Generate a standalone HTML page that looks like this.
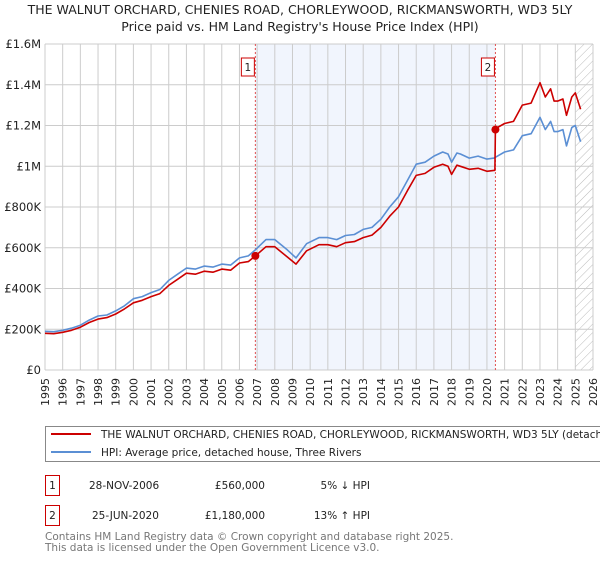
<!DOCTYPE html>
<html><head><meta charset="utf-8"><style>
body{margin:0;width:600px;height:560px;overflow:hidden;background:#fff;font-family:"DejaVu Sans","Liberation Sans",sans-serif;}
text{font-family:"DejaVu Sans","Liberation Sans",sans-serif;}
</style></head><body>
<svg id="chart" width="600" height="560" xmlns="http://www.w3.org/2000/svg">
<text x="300" y="14" font-size="12.5" text-anchor="middle" fill="#222">THE WALNUT ORCHARD, CHENIES ROAD, CHORLEYWOOD, RICKMANSWORTH, WD3 5LY</text>
<text x="300" y="31" font-size="12.5" text-anchor="middle" fill="#222">Price paid vs. HM Land Registry's House Price Index (HPI)</text>
<g id="plot"></g>
<g>
<rect x="45.5" y="426.5" width="560" height="35" fill="#fff" stroke="#888"/>
<line x1="51" y1="434" x2="91" y2="434" stroke="#cc0000" stroke-width="2"/>
<text x="101" y="438" font-size="10.5" fill="#222">THE WALNUT ORCHARD, CHENIES ROAD, CHORLEYWOOD, RICKMANSWORTH, WD3 5LY (detached house)</text>
<line x1="51" y1="452" x2="91" y2="452" stroke="#5b8fd4" stroke-width="2"/>
<text x="101" y="456" font-size="10.5" fill="#222">HPI: Average price, detached house, Three Rivers</text>
</g>
<g font-size="10.5" fill="#222">
<rect x="45.5" y="475.5" width="14" height="20" fill="#fff" stroke="#cc0000"/>
<text x="52.5" y="489" text-anchor="middle">1</text>
<text x="89" y="489">28-NOV-2006</text>
<text x="265" y="489" text-anchor="end">£560,000</text>
<text x="370" y="489" text-anchor="end">5% ↓ HPI</text>
</g>
<g font-size="10.5" fill="#222">
<rect x="45.5" y="505.5" width="14" height="20" fill="#fff" stroke="#cc0000"/>
<text x="52.5" y="519" text-anchor="middle">2</text>
<text x="92" y="519">25-JUN-2020</text>
<text x="265" y="519" text-anchor="end">£1,180,000</text>
<text x="370" y="519" text-anchor="end">13% ↑ HPI</text>
</g>
<text x="45" y="540" font-size="10.5" fill="#777">Contains HM Land Registry data © Crown copyright and database right 2025.</text>
<text x="45" y="551" font-size="10.5" fill="#777">This data is licensed under the Open Government Licence v3.0.</text>
</svg>
<script>
const yearTicks=[1995,1996,1997,1998,1999,2000,2001,2002,2003,2004,2005,2006,2007,2008,2009,2010,2011,2012,2013,2014,2015,2016,2017,2018,2019,2020,2021,2022,2023,2024,2025,2026];
const priceTicks=[0,200000,400000,600000,800000,1000000,1200000,1400000,1600000];
const priceLabels=["£0","£200K","£400K","£600K","£800K","£1M","£1.2M","£1.4M","£1.6M"];
const hpiDates=[1995,1995.5,1996,1996.5,1997,1997.5,1998,1998.5,1999,1999.5,2000,2000.5,2001,2001.5,2002,2002.5,2003,2003.5,2004,2004.5,2005,2005.5,2006,2006.5,2006.9,2007.5,2008,2008.7,2009.2,2009.8,2010.5,2011,2011.5,2012,2012.5,2013,2013.5,2014,2014.5,2015,2015.5,2016,2016.5,2017,2017.5,2017.8,2018,2018.3,2018.5,2019,2019.5,2020,2020.4,2020.6,2021,2021.5,2022,2022.5,2023,2023.3,2023.6,2023.8,2024,2024.3,2024.5,2024.8,2025,2025.3];
const hpiValues=[190000,188000,195000,205000,220000,245000,265000,270000,290000,315000,350000,360000,380000,395000,440000,470000,500000,495000,510000,505000,520000,515000,550000,560000,590000,640000,640000,590000,550000,620000,650000,650000,640000,660000,665000,690000,700000,740000,800000,850000,930000,1010000,1020000,1050000,1070000,1060000,1020000,1065000,1060000,1040000,1050000,1035000,1040000,1050000,1070000,1080000,1150000,1160000,1240000,1180000,1220000,1170000,1170000,1180000,1100000,1190000,1200000,1120000];
const ppDates=[1995,1995.5,1996,1996.5,1997,1997.5,1998,1998.5,1999,1999.5,2000,2000.5,2001,2001.5,2002,2002.5,2003,2003.5,2004,2004.5,2005,2005.5,2006,2006.5,2006.9,2007.5,2008,2008.7,2009.2,2009.8,2010.5,2011,2011.5,2012,2012.5,2013,2013.5,2014,2014.5,2015,2015.5,2016,2016.5,2017,2017.5,2017.8,2018,2018.3,2018.5,2019,2019.5,2020,2020.45,2020.48,2020.6,2021,2021.5,2022,2022.5,2023,2023.3,2023.6,2023.8,2024,2024.3,2024.5,2024.8,2025,2025.3];
const ppValues=[180000,178000,185000,195000,210000,233000,250000,257000,275000,300000,330000,342000,360000,375000,415000,445000,475000,470000,485000,480000,495000,490000,525000,532000,560000,605000,605000,555000,520000,585000,615000,615000,605000,625000,630000,650000,662000,700000,755000,800000,880000,955000,965000,995000,1010000,1000000,960000,1005000,1000000,985000,990000,975000,980000,1180000,1190000,1210000,1220000,1300000,1310000,1410000,1340000,1380000,1320000,1320000,1330000,1250000,1340000,1360000,1280000];
const sales=[{label:"1",date:2006.9,price:560000},{label:"2",date:2020.48,price:1180000}];
const hatchStart=2025.0;

const NS="http://www.w3.org/2000/svg";
const L=45,R=593,T=44,B=370;
const x=d=>L+(d-1995)/(2026-1995)*(R-L);
const y=v=>B-v/1600000*(B-T);
const g=document.getElementById('plot');
function el(t,a,p){const e=document.createElementNS(NS,t);for(const k in a)e.setAttribute(k,a[k]);(p||g).appendChild(e);return e;}
let sh=el('rect',{x:x(sales[0].date),y:T,width:x(sales[1].date)-x(sales[0].date),height:B-T,fill:'#eef3fc',opacity:0.8});


const defs=el('defs',{});
const pat=el('pattern',{id:'hatch',width:6,height:6,patternUnits:'userSpaceOnUse',patternTransform:'rotate(45)'},defs);
el('line',{x1:0,y1:0,x2:0,y2:6,stroke:'#bbb','stroke-width':1},pat);
let hr=el('rect',{x:x(hatchStart),y:T,width:R-x(hatchStart),height:B-T,fill:'url(#hatch)'});


yearTicks.forEach(t=>{
 el('line',{x1:x(t),y1:T,x2:x(t),y2:B,stroke:'#ccc','stroke-width':1});
 const px=x(t)+4, py=B+8;
 const tx=el('text',{x:px,y:py,'font-size':11,fill:'#222','text-anchor':'end',transform:'rotate(-90 '+px+' '+py+')'});
 tx.textContent=t;
 
 
});
priceTicks.forEach((t,i)=>{
 el('line',{x1:L,y1:y(t),x2:R,y2:y(t),stroke:'#ccc','stroke-width':1});
 const tx=el('text',{x:L-4,y:y(t)+4,'font-size':11.5,fill:'#222','text-anchor':'end'});
 tx.textContent=priceLabels[i];
 
 
});
sales.forEach(s=>{
 el('line',{x1:x(s.date),y1:T,x2:x(s.date),y2:B,stroke:'#e05050','stroke-width':1,'stroke-dasharray':'2,2'});
 const bx=el('rect',{x:x(s.date)-14,y:58,width:13,height:18,fill:'#fff',stroke:'#cc0000'});
 
 
 const t=el('text',{x:x(s.date)-7.5,y:71,'font-size':10.5,'text-anchor':'middle',fill:'#222'});t.textContent=s.label;
});
function line(ds,vs,c,name){
 const p=el('path',{d:ds.map((d,i)=>(i?'L':'M')+x(d).toFixed(1)+','+y(vs[i]).toFixed(1)).join(''),fill:'none',stroke:c,'stroke-width':1.6,'stroke-linejoin':'round'});
 
 
}
line(hpiDates,hpiValues,'#5b8fd4','hpi-line');
line(ppDates,ppValues,'#cc0000','price-paid-line');
sales.forEach(s=>{
 const c=el('circle',{cx:x(s.date),cy:y(s.price),r:4,fill:'#cc0000'});
 
 
});
</script>
</body></html>
